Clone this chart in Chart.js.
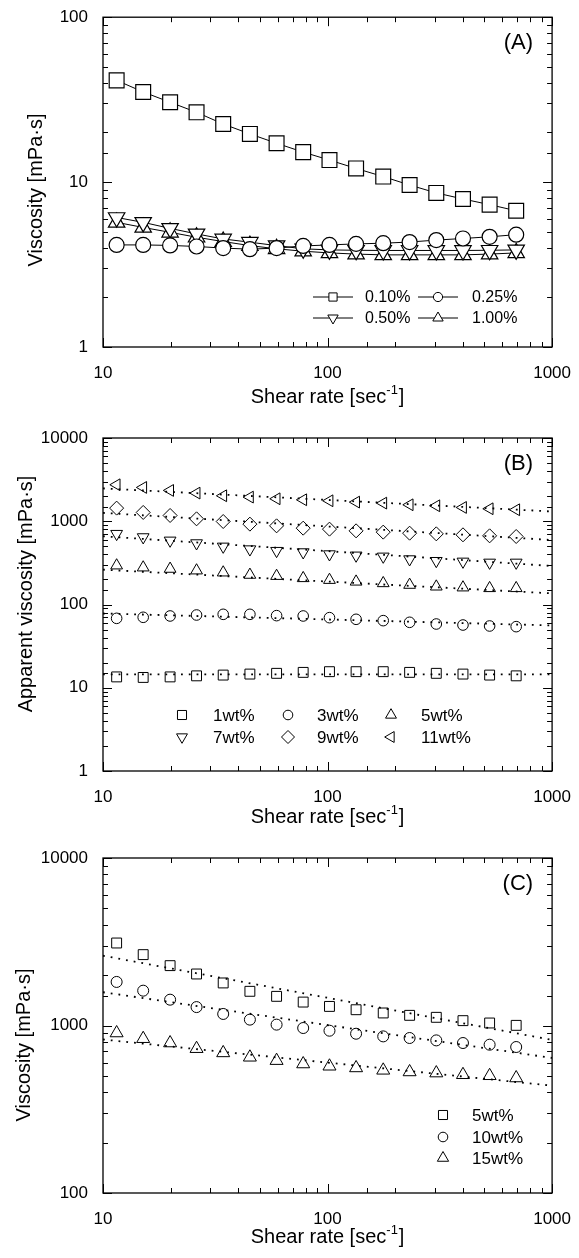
<!DOCTYPE html>
<html>
<head>
<meta charset="utf-8">
<script src="https://cdn.jsdelivr.net/npm/chart.js@4.4.1/dist/chart.umd.min.js"></script>
<style>
  body { margin: 0; background: #fff; }
  canvas { display: block; }
</style>
</head>
<body>
<canvas id="chartA" width="579" height="420"></canvas>
<canvas id="chartB" width="579" height="420"></canvas>
<canvas id="chartC" width="579" height="418"></canvas>
<script>
const FONT = "'Liberation Sans', Arial, Helvetica, sans-serif";

/* shear rate steps (same sweep in all three panels) */
const shearRate = [11.5, 15.1, 19.9, 26.1, 34.3, 45.1, 59.3, 77.9, 102, 134, 177, 232, 305, 401, 527, 692];
/* fitted power-law lines run across the whole x axis */
const fitRange = [10, 1000];

/* (A) viscosity, mPa·s */
const viscA010 = [41.4, 35.2, 30.5, 26.5, 22.5, 19.6, 17.2, 15.2, 13.6, 12.1, 10.8, 9.6, 8.6, 7.9, 7.3, 6.7];
const viscA025 = [4.16, 4.16, 4.13, 4.07, 3.98, 3.92, 3.98, 4.10, 4.16, 4.22, 4.26, 4.33, 4.45, 4.55, 4.66, 4.80];
const viscA050 = [6.1, 5.7, 5.24, 4.85, 4.52, 4.32, 4.12, 3.94, 3.88, 3.86, 3.85, 3.85, 3.85, 3.85, 3.86, 3.88];
const viscA100 = [5.7, 5.31, 4.96, 4.63, 4.36, 4.12, 3.94, 3.81, 3.72, 3.66, 3.62, 3.62, 3.62, 3.62, 3.66, 3.72];

/* (B) apparent viscosity, mPa·s */
const viscB1 = [13.5, 13.3, 13.5, 13.9, 14.2, 14.6, 14.9, 15.3, 15.6, 15.6, 15.6, 15.3, 14.9, 14.6, 14.2, 13.9];
const viscB3 = [68.2, 70.2, 72.8, 74.8, 76.2, 76.2, 73.5, 72.8, 69.5, 66.4, 64.0, 61.1, 58.3, 56.7, 55.2, 54.2];
const viscB5 = [294, 278, 268, 256, 242, 227, 220, 207, 197, 188, 180, 172, 164, 160, 157, 157];
const viscB7 = [706, 644, 587, 545, 497, 461, 441, 425, 402, 388, 377, 350, 334, 328, 319, 319];
const viscB9 = [1438, 1276, 1173, 1069, 993, 923, 881, 826, 804, 767, 740, 719, 706, 687, 668, 656];
const viscB11 = [2744, 2547, 2344, 2178, 2023, 1950, 1862, 1811, 1762, 1698, 1651, 1577, 1534, 1465, 1413, 1374];
const fitB1 = [14.5, 14.5];
const fitB3 = [78, 56];
const fitB5 = [262, 136];
const fitB7 = [660, 290];
const fitB9 = [1260, 595];
const fitB11 = [2480, 1310];

/* (C) viscosity, mPa·s */
const viscC5 = [3108, 2649, 2277, 2030, 1795, 1600, 1493, 1380, 1300, 1242, 1188, 1150, 1119, 1069, 1035, 1002];
const viscC10 = [1820, 1614, 1426, 1288, 1172, 1084, 1012, 966, 931, 893, 861, 842, 815, 786, 768, 744];
const viscC15 = [902, 834, 786, 727, 686, 646, 617, 589, 571, 558, 540, 528, 520, 508, 501, 486];
const fitC5 = [2610, 820];
const fitC10 = [1580, 640];
const fitC15 = [825, 437];

function isDecade(v) {
  const l = Math.log10(v);
  return Math.abs(l - Math.round(l)) < 1e-6;
}

function pts(ys, xs) {
  xs = xs || shearRate;
  return ys.map((y, i) => ({ x: xs[i], y: y }));
}

/* symbols only, or symbols joined by a thin line */
function series(label, ys, style, r, extra) {
  return Object.assign({
    label: label,
    data: pts(ys),
    pointStyle: style,
    pointRadius: r,
    pointBorderWidth: 1,
    pointBorderColor: '#000',
    pointBackgroundColor: 'rgba(0,0,0,0)',
    borderColor: '#000',
    borderWidth: 1,
    showLine: false,
  }, extra || {});
}

function fitLine(ys) {
  return {
    label: '',
    data: pts(ys, fitRange),
    showLine: true,
    pointRadius: 0,
    borderColor: '#000',
    borderWidth: 1.8,
    borderDash: [1.8, 6],
  };
}

function axisX(h) {
  return {
    type: 'logarithmic', min: 10, max: 1000,
    grid: { display: false },
    border: { display: false },
    ticks: {
      autoSkip: false, maxRotation: 0, padding: 8, color: '#000',
      font: { family: FONT, size: 17 },
      callback: v => isDecade(v) ? String(v) : ''
    },
    afterFit(scale) { scale.height = h; }
  };
}

function axisY(min, max) {
  return {
    type: 'logarithmic', min: min, max: max,
    grid: { display: false },
    border: { display: false },
    ticks: {
      autoSkip: false, padding: 7, color: '#000',
      font: { family: FONT, size: 17 },
      callback: v => isDecade(v) ? String(v) : ''
    },
    afterFit(scale) { scale.width = 103; }
  };
}

/* frame, inward ticks on all sides, axis titles, panel tag, in-plot legend */
const paperStyle = {
  id: 'paperStyle',
  afterDraw(chart, args, opts) {
    const ctx = chart.ctx;
    const a = chart.chartArea;
    const sx = chart.scales.x, sy = chart.scales.y;
    ctx.save();
    ctx.strokeStyle = '#000';
    ctx.lineWidth = 1.3;
    ctx.strokeRect(a.left, a.top, a.right - a.left, a.bottom - a.top);

    ctx.lineWidth = 1;
    ctx.beginPath();
    sx.ticks.forEach(t => {
      const px = Math.round(sx.getPixelForValue(t.value)) + 0.5;
      const len = isDecade(t.value) ? 9 : 5;
      ctx.moveTo(px, a.bottom); ctx.lineTo(px, a.bottom - len);
      ctx.moveTo(px, a.top); ctx.lineTo(px, a.top + len);
    });
    sy.ticks.forEach(t => {
      const py = Math.round(sy.getPixelForValue(t.value)) + 0.5;
      const len = isDecade(t.value) ? 9 : 5;
      ctx.moveTo(a.left, py); ctx.lineTo(a.left + len, py);
      ctx.moveTo(a.right, py); ctx.lineTo(a.right - len, py);
    });
    ctx.stroke();

    // x title with superscript
    ctx.fillStyle = '#000';
    ctx.textBaseline = 'middle';
    ctx.textAlign = 'left';
    const big = '20px ' + FONT, small = '13px ' + FONT;
    ctx.font = big;
    const w1 = ctx.measureText('Shear rate [sec').width;
    const w3 = ctx.measureText(']').width;
    ctx.font = small;
    const w2 = ctx.measureText('-1').width + 1;
    let x = (a.left + a.right) / 2 - (w1 + w2 + w3) / 2;
    ctx.font = big;
    ctx.fillText('Shear rate [sec', x, opts.titleY);
    x += w1;
    ctx.font = small;
    ctx.fillText('-1', x, opts.titleY - 7);
    x += w2;
    ctx.font = big;
    ctx.fillText(']', x, opts.titleY);

    // y title, rotated
    ctx.save();
    ctx.translate(opts.yTitle.x, opts.yTitle.y);
    ctx.rotate(-Math.PI / 2);
    ctx.textAlign = 'center';
    ctx.font = '20px ' + FONT;
    ctx.fillText(opts.yTitle.text, 0, 0);
    ctx.restore();

    // panel tag
    ctx.font = '22px ' + FONT;
    ctx.textAlign = 'right';
    ctx.fillText(opts.tag, a.right - 19, a.top + 26);

    // legend
    ctx.font = opts.legendFont + 'px ' + FONT;
    ctx.textAlign = 'left';
    opts.legend.forEach(it => {
      const ds = chart.data.datasets[it.i];
      ctx.strokeStyle = '#000';
      ctx.lineWidth = 1;
      if (it.line) {
        ctx.beginPath();
        ctx.moveTo(it.x - 20, it.y); ctx.lineTo(it.x + 20, it.y);
        ctx.stroke();
      }
      ctx.fillStyle = it.line ? '#fff' : 'rgba(0,0,0,0)';
      Chart.helpers.drawPoint(ctx, {
        pointStyle: ds.pointStyle, radius: it.r,
        rotation: ds.pointRotation || 0, borderWidth: 1
      }, it.x, it.y);
      ctx.fillStyle = '#000';
      ctx.fillText(ds.label, it.tx, it.y + 1);
    });
    ctx.restore();
  }
};

function baseOptions(top, xh, yMin, yMax, style) {
  return {
    responsive: false,
    animation: false,
    events: [],
    layout: { padding: { left: 0, right: 24, top: top, bottom: 0 } },
    scales: { x: axisX(xh), y: axisY(yMin, yMax) },
    plugins: { legend: { display: false }, tooltip: { enabled: false }, paperStyle: style }
  };
}

/* (A) */
let chartA = new Chart(document.getElementById('chartA').getContext('2d'), {
  type: 'scatter',
  data: {
    datasets: [
      series('0.10%', viscA010, 'rect', 10.5, { showLine: true, pointBackgroundColor: '#fff', pointBorderWidth: 1.2 }),
      series('0.25%', viscA025, 'circle', 7.5, { showLine: true, pointBackgroundColor: '#fff', pointBorderWidth: 1.2 }),
      series('0.50%', viscA050, 'triangle', 9.5, { showLine: true, pointBackgroundColor: '#fff', pointBorderWidth: 1.2, pointRotation: 180 }),
      series('1.00%', viscA100, 'triangle', 9.5, { showLine: true, pointBackgroundColor: '#fff', pointBorderWidth: 1.2 }),
    ]
  },
  options: baseOptions(14, 73, 1, 100, {
    tag: '(A)', titleY: 397, legendFont: 16,
    yTitle: { text: 'Viscosity [mPa·s]', x: 36, y: 190 },
    legend: [
      { i: 0, x: 333, y: 297, r: 5.8, tx: 365, line: true },
      { i: 1, x: 438, y: 297, r: 4.6, tx: 472, line: true },
      { i: 2, x: 333, y: 318, r: 6, tx: 365, line: true },
      { i: 3, x: 438, y: 318, r: 6, tx: 472, line: true },
    ]
  }),
  plugins: [paperStyle]
});

/* (B) */
let chartB = new Chart(document.getElementById('chartB').getContext('2d'), {
  type: 'scatter',
  data: {
    datasets: [
      series('1wt%', viscB1, 'rect', 7),
      series('3wt%', viscB3, 'circle', 5.3),
      series('5wt%', viscB5, 'triangle', 6.8),
      series('7wt%', viscB7, 'triangle', 6.8, { pointRotation: 180 }),
      series('9wt%', viscB9, 'rectRot', 7),
      series('11wt%', viscB11, 'triangle', 6.8, { pointRotation: 270 }),
      fitLine(fitB1), fitLine(fitB3), fitLine(fitB5),
      fitLine(fitB7), fitLine(fitB9), fitLine(fitB11),
    ]
  },
  options: baseOptions(18, 69, 1, 10000, {
    tag: '(B)', titleY: 397, legendFont: 17,
    yTitle: { text: 'Apparent viscosity [mPa·s]', x: 26, y: 174 },
    legend: [
      { i: 0, x: 182, y: 295, r: 6.4, tx: 213 },
      { i: 1, x: 288, y: 295, r: 4.8, tx: 317 },
      { i: 2, x: 391, y: 295, r: 6.3, tx: 421 },
      { i: 3, x: 182, y: 317, r: 6.3, tx: 213 },
      { i: 4, x: 288, y: 317, r: 6.5, tx: 317 },
      { i: 5, x: 391, y: 317, r: 6.3, tx: 421 },
    ]
  }),
  plugins: [paperStyle]
});

/* (C) */
let chartC = new Chart(document.getElementById('chartC').getContext('2d'), {
  type: 'scatter',
  data: {
    datasets: [
      series('5wt%', viscC5, 'rect', 7),
      series('10wt%', viscC10, 'circle', 5.5),
      series('15wt%', viscC15, 'triangle', 7.5),
      fitLine(fitC5), fitLine(fitC10), fitLine(fitC15),
    ]
  },
  options: baseOptions(18, 65, 100, 10000, {
    tag: '(C)', titleY: 397, legendFont: 17,
    yTitle: { text: 'Viscosity [mPa·s]', x: 24, y: 205 },
    legend: [
      { i: 0, x: 443, y: 275, r: 6.4, tx: 472 },
      { i: 1, x: 443, y: 297, r: 4.8, tx: 472 },
      { i: 2, x: 443, y: 318, r: 6.5, tx: 472 },
    ]
  }),
  plugins: [paperStyle]
});
</script>
</body>
</html>
